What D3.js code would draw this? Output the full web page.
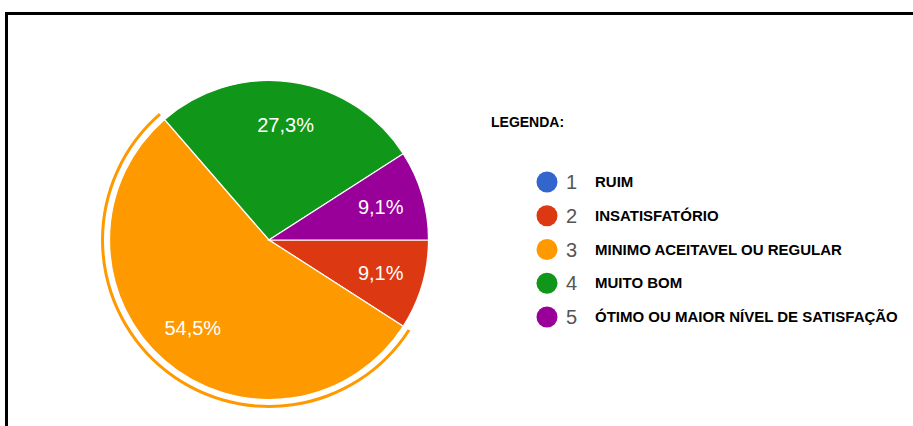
<!DOCTYPE html>
<html>
<head>
<meta charset="utf-8">
<script src="https://cdn.jsdelivr.net/npm/d3@7"></script>
<style>
	body { margin: 0; background: #fff; }
	svg { display: block; }
</style>
</head>
<body>
<div id="chart"></div>
<script>
// Data (11 answers)
const categories = ["1", "2", "3", "4", "5"];
const names = ["RUIM", "INSATISFATÓRIO", "MINIMO ACEITAVEL OU REGULAR", "MUITO BOM", "ÓTIMO OU MAIOR NÍVEL DE SATISFAÇÃO"];
const counts = [0, 1, 6, 3, 1];
const colors = ["#3366cc", "#dc3912", "#ff9900", "#109618", "#990099"];
const highlighted = "3";

const width = 913, height = 426;
const cx = 269, cy = 240, radius = 159.5;

const data = categories.map(function(c, i) {
	return {cat: c, name: names[i], value: counts[i], color: colors[i]};
});

const locale = d3.formatLocale({decimal: ",", thousands: ".", grouping: [3], currency: ["R$", ""]});
const pct = locale.format(".1%");

const svg = d3.select("#chart")
	.append("svg")
		.attr("width", width)
		.attr("height", height);

// frame
svg.append("path")
	.attr("d", "M6.5,426 V13.5 H913")
	.attr("fill", "none")
	.attr("stroke", "#000")
	.attr("stroke-width", 3);

const total = d3.sum(data, function(d) { return d.value; });

const pie = d3.pie()
	.sort(null)
	.value(function(d) { return d.value; })
	.startAngle(Math.PI / 2)
	.endAngle(Math.PI / 2 + 2 * Math.PI);

const arcs = pie(data).filter(function(d) { return d.value > 0; });

const arc = d3.arc().innerRadius(0).outerRadius(radius);
const ring = d3.arc().innerRadius(radius + 5.5).outerRadius(radius + 8.5);
const labelArc = d3.arc().innerRadius(radius * 0.73).outerRadius(radius * 0.73);

const g = svg.append("g")
	.attr("transform", `translate(${cx},${cy})`);

g.selectAll(".slice")
	.data(arcs)
	.join("path")
		.attr("class", "slice")
		.attr("d", arc)
		.attr("fill", function(d) { return d.data.color; })
		.attr("stroke", "#fff")
		.attr("stroke-width", 1.2);

// selection ring round the highlighted slice
g.selectAll(".ring")
	.data(arcs.filter(function(d) { return d.data.cat == highlighted; }))
	.join("path")
		.attr("class", "ring")
		.attr("d", ring)
		.attr("fill", function(d) { return d.data.color; });

g.selectAll(".lbl")
	.data(arcs)
	.join("text")
		.attr("class", "lbl")
		.attr("transform", function(d) { return `translate(${labelArc.centroid(d)})`; })
		.attr("text-anchor", "middle")
		.attr("dy", "0.36em")
		.attr("fill", "#fff")
		.style("font-family", "'Liberation Sans', Arial, sans-serif")
		.style("font-size", "20px")
		.text(function(d) { return pct(d.value / total); });

// legend
svg.append("text")
	.attr("x", 491)
	.attr("y", 127)
	.style("font-family", "'Liberation Sans', Arial, sans-serif")
	.style("font-size", "14px")
	.style("font-weight", "bold")
	.attr("fill", "#000")
	.text("LEGENDA:");

const ly = d3.scalePoint().domain(categories).range([182, 317]);

const items = svg.selectAll(".item")
	.data(data)
	.join("g")
		.attr("class", "item")
		.attr("transform", function(d) { return `translate(547,${ly(d.cat)})`; });

items.append("circle")
	.attr("r", 10.5)
	.attr("fill", function(d) { return d.color; });

items.append("text")
	.attr("x", 19)
	.attr("dy", "0.36em")
	.attr("fill", "#555")
	.style("font-family", "'Liberation Sans', Arial, sans-serif")
	.style("font-size", "20px")
	.text(function(d) { return d.cat; });

items.append("text")
	.attr("x", 48)
	.attr("dy", "0.34em")
	.attr("fill", "#000")
	.style("font-family", "'Liberation Sans', Arial, sans-serif")
	.style("font-size", "15px")
	.style("font-weight", "bold")
	.text(function(d) { return d.name; });
</script>
</body>
</html>
